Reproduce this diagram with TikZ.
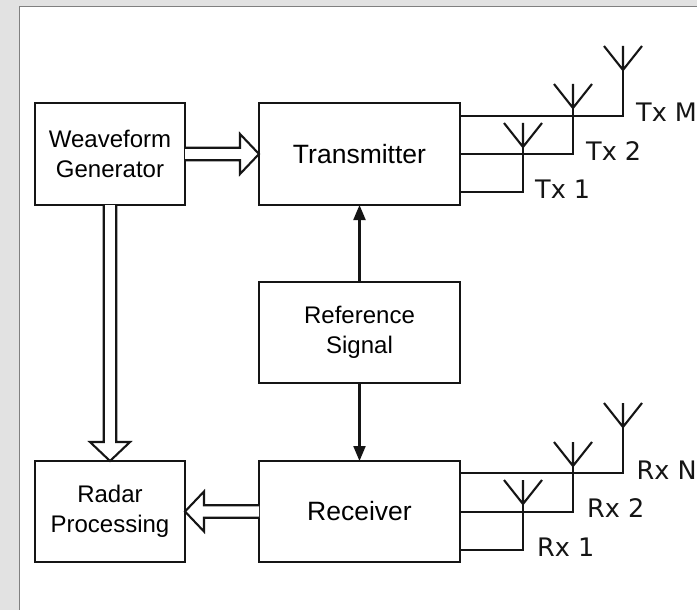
\documentclass[tikz,border=0pt]{standalone}
\usepackage{fontspec}
\setmainfont{Liberation Sans}
\newfontfamily\labelfont{DejaVu Sans}
\usetikzlibrary{calc,arrows.meta}
\definecolor{pagegrey}{HTML}{E2E2E2}
\definecolor{framegrey}{HTML}{808080}
\definecolor{ink}{HTML}{151515}
\tikzset{
  x=1pt,y=-1pt,
  wire/.style={draw=ink,line width=2.1pt,line cap=butt,line join=miter},
  box/.style={wire,rectangle,inner sep=0pt,outer sep=0pt,align=center,anchor=north west,font=\fontsize{24}{30}\selectfont},
  bigbox/.style={box,font=\fontsize{26.5}{32}\selectfont},
  ant/.style={wire},
  lab/.style={anchor=base west,inner sep=0pt,text=ink,font=\labelfont\fontsize{25.5}{30}\selectfont},
  feed/.style={wire,-{Triangle[length=15pt,width=12pt]}}
}
\newcommand{\hollowarrow}[2]{%
  \coordinate (h) at ($(#2)!19pt!(#1)$);
  \draw[wire,fill=white]
    ($(#1)!6.25pt!90:(#2)$) -- ($(h)!6.25pt!90:(#2)$) -- ($(h)!20pt!90:(#2)$)
    -- (#2) -- ($(h)!20pt!-90:(#2)$) -- ($(h)!6.25pt!-90:(#2)$) -- ($(#1)!6.25pt!-90:(#2)$);
}
% #1 name, #2 x, #3 apex y
\newcommand{\antenna}[3]{%
  \coordinate (#1) at (#2,#3);
  \coordinate (#1top) at (#2,#3-24);
  \coordinate (#1l) at (#2-19,#3-24);
  \coordinate (#1r) at (#2+19,#3-24);
  \draw[ant] (#1l) -- (#1) -- (#1r) (#1top) -- (#1);
}
\begin{document}
\begin{tikzpicture}
\useasboundingbox (0,0) rectangle (697,610);
\fill[pagegrey] (0,0) rectangle (697,610);
\fill[white] (20,7) rectangle (697,610);
\draw[framegrey,line width=1.2pt] (19.6,610) -- (19.6,6.8) -- (697,6.8);

\node[box,minimum width=150pt,minimum height=102pt] (wg) at (35,103) {Weaveform\\Generator};
\node[bigbox,minimum width=201pt,minimum height=102pt] (tx) at (259,103) {Transmitter};
\node[box,minimum width=201pt,minimum height=101pt] (rs) at (259,282) {Reference\\Signal};
\node[box,minimum width=150pt,minimum height=101pt] (rp) at (35,461) {Radar\\Processing};
\node[bigbox,minimum width=201pt,minimum height=101pt] (rx) at (259,461) {Receiver};

\hollowarrow{wg.east}{tx.west}
\hollowarrow{wg.south}{rp.north}
\hollowarrow{rx.west}{rp.east}
\draw[feed] (rs.north) -- (tx.south);
\draw[feed] (rs.south) -- (rx.north);

\antenna{ta}{523}{147}
\antenna{tb}{573}{108}
\antenna{tc}{623}{70}
\antenna{ra}{523}{504}
\antenna{rb}{573}{466}
\antenna{rc}{623}{427}

\coordinate (tax) at (523,192);
\coordinate (tbx) at (573,154);
\coordinate (tcx) at (623,116);
\coordinate (rax) at (523,550);
\coordinate (rbx) at (573,512);
\coordinate (rcx) at (623,473);
\foreach \a/\b/\c in {ta/tax/tx,tb/tbx/tx,tc/tcx/tx,ra/rax/rx,rb/rbx/rx,rc/rcx/rx}{
  \draw[wire] (\a) -- (\b) -- (\c.east |- \b);
}

\node[lab] (l1) at (535,198) {Tx 1};
\node[lab] (l2) at (586,160.7) {Tx 2};
\node[lab] (l3) at (636,121.7) {Tx M};
\node[lab] (l4) at (537,556) {Rx 1};
\node[lab] (l5) at (587,517.7) {Rx 2};
\node[lab] (l6) at (636.5,479) {Rx N};
\end{tikzpicture}
\end{document}
